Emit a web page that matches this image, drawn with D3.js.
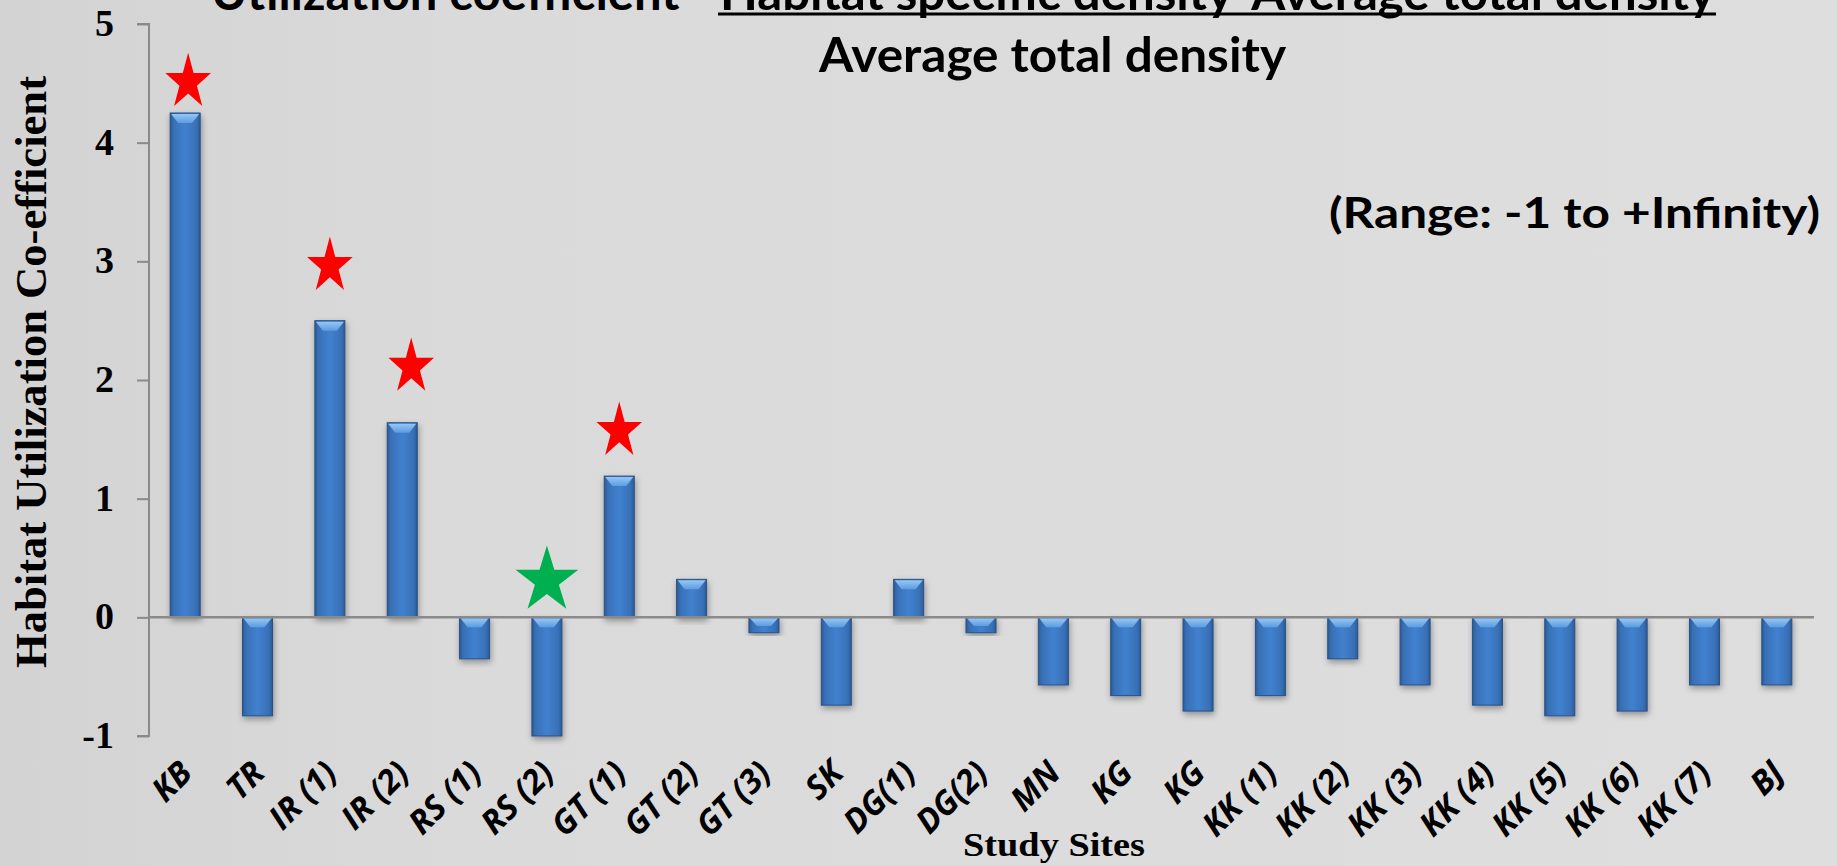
<!DOCTYPE html>
<html>
<head>
<meta charset="utf-8">
<script src="https://cdn.jsdelivr.net/npm/d3@7"></script>
<style>
  html, body { margin: 0; padding: 0; background: #dcdcdc; overflow: hidden; }
  svg { display: block; }
</style>
</head>
<body>
<svg id="chart" width="1837" height="866"></svg>
<script>
// Study sites along the category axis (KG appears twice)
const sites = ["KB", "TR", "IR (1)", "IR (2)", "RS (1)", "RS (2)", "GT (1)", "GT (2)", "GT (3)",
  "SK", "DG(1)", "DG(2)", "MN", "KG", "KG", "KK (1)", "KK (2)", "KK (3)", "KK (4)",
  "KK (5)", "KK (6)", "KK (7)", "BJ"];

// Habitat utilization co-efficient for each site
const coefficients = [4.25, -0.83, 2.50, 1.64, -0.35, -1.00, 1.19, 0.32, -0.13,
  -0.74, 0.32, -0.13, -0.57, -0.66, -0.79, -0.66, -0.35, -0.57, -0.74,
  -0.83, -0.79, -0.57, -0.57];

// Value axis ticks
const yTicks = [-1, 0, 1, 2, 3, 4, 5];

// Star markers: site index, level on the value axis, kind
const starSites = [0, 2, 3, 6, 5];
const starLevels = [4.51, 2.96, 2.11, 1.57, 0.31];
const starKinds = ["high", "high", "high", "high", "low"];

// Text
const titleLeft = "Utilization coefficient= ";
const titleNumerator = "Habitat specific density-Average total density";
const titleDenominator = "Average total density";
const rangeNote = "(Range: -1 to +Infinity)";
const yTitle = "Habitat Utilization Co-efficient";
const xTitle = "Study Sites";

const svg = d3.select("#chart");
const W = 1837, H = 866;

const defs = svg.append("defs");

// background
const bg = defs.append("linearGradient").attr("id", "bg").attr("x1", 0).attr("x2", 1).attr("y1", 0).attr("y2", 0);
bg.append("stop").attr("offset", "0%").attr("stop-color", "#d3d3d3");
bg.append("stop").attr("offset", "25%").attr("stop-color", "#dadada");
bg.append("stop").attr("offset", "100%").attr("stop-color", "#dedede");
svg.append("rect").attr("width", W).attr("height", H).attr("fill", "url(#bg)");

// bar body gradient
const bar = defs.append("linearGradient").attr("id", "barFill").attr("x1", 0).attr("x2", 1).attr("y1", 0).attr("y2", 0);
[["0%", "#2c5a95"], ["12%", "#3870b6"], ["50%", "#4181cf"], ["88%", "#3870b6"], ["100%", "#2c5a95"]]
  .forEach(([o, c]) => bar.append("stop").attr("offset", o).attr("stop-color", c));

const bevel = defs.append("linearGradient").attr("id", "bevelFill").attr("x1", 0).attr("x2", 0).attr("y1", 0).attr("y2", 1);
bevel.append("stop").attr("offset", "0%").attr("stop-color", "#93c7f8");
bevel.append("stop").attr("offset", "100%").attr("stop-color", "#5d9be0");

const shadow = defs.append("filter").attr("id", "shadow").attr("x", "-30%").attr("y", "-10%").attr("width", "160%").attr("height", "130%");
shadow.append("feDropShadow").attr("dx", 1).attr("dy", 3).attr("stdDeviation", 3)
  .attr("flood-color", "#000").attr("flood-opacity", 0.35);

// scales
const x = d3.scaleBand()
  .domain(d3.range(sites.length))
  .range([149, 1813])
  .paddingInner(0.585)
  .paddingOuter(0.2925);

const y = d3.scaleLinear().domain([-1, 5]).range([736, 24]);

const axisGrey = "#8a8a8a";
const serif = "'Liberation Serif', 'Times New Roman', serif";
const sans = "Lato, 'Open Sans', sans-serif";

// value axis
const yAxis = svg.append("g")
  .attr("transform", `translate(${x.range()[0]},0)`)
  .call(d3.axisLeft(y).tickValues(yTicks).tickSize(12).tickPadding(23).tickFormat(d => String(d)));
yAxis.select(".domain").attr("stroke", axisGrey).attr("stroke-width", 2)
  .attr("d", `M-12,${y(5)}H0V${y(-1)}H-12`);
yAxis.selectAll(".tick line").attr("stroke", axisGrey).attr("stroke-width", 2);
yAxis.selectAll(".tick text")
  .attr("fill", "#000")
  .attr("dy", "0.3em")
  .style("font-family", serif)
  .style("font-weight", "bold")
  .style("font-size", "38px");

// bars
const bars = svg.append("g").selectAll("g.bar")
  .data(coefficients.map((v, i) => ({ v, i })))
  .join("g").attr("class", "bar");

bars.append("rect")
  .attr("x", d => x(d.i))
  .attr("width", x.bandwidth())
  .attr("y", d => y(Math.max(0, d.v)))
  .attr("height", d => Math.abs(y(d.v) - y(0)))
  .attr("fill", "url(#barFill)")
  .attr("stroke", "#2a4f83")
  .attr("stroke-width", 1)
  .attr("filter", "url(#shadow)");

// bevelled top face of each bar
bars.append("path")
  .attr("d", d => {
    const x0 = x(d.i), w = x.bandwidth(), t = y(Math.max(0, d.v)) + 1;
    const h = Math.min(9, Math.abs(y(d.v) - y(0)) / 2);
    return `M${x0 + 1},${t}H${x0 + w - 1}L${x0 + w - 8},${t + h}H${x0 + 8}Z`;
  })
  .attr("fill", "url(#bevelFill)");

// zero line
svg.append("line")
  .attr("x1", x.range()[0]).attr("x2", x.range()[1] + 1)
  .attr("y1", y(0)).attr("y2", y(0))
  .attr("stroke", axisGrey).attr("stroke-width", 2.5);

// category labels
svg.append("g").selectAll("text")
  .data(sites)
  .join("text")
  .attr("transform", (d, i) => `translate(${x(i) + x.bandwidth() / 2 + 9},775) rotate(-45)`)
  .attr("text-anchor", "end")
  .style("font-family", "'Open Sans', Lato, sans-serif")
  .style("font-weight", "bold")
  .style("font-style", "italic")
  .style("font-size", "33px")
  .attr("fill", "#000")
  .text(d => d);

// star markers
function starPoints(cx, cy, rx, ry) {
  const pts = [];
  for (let k = 0; k < 10; k++) {
    const a = -Math.PI / 2 + k * Math.PI / 5;
    const r = k % 2 === 0 ? 1 : 0.382;
    pts.push([cx + rx * r * Math.cos(a), cy + ry * r * Math.sin(a)]);
  }
  return pts.map(p => p.join(",")).join(" ");
}
const starStyle = {
  high: { fill: "#ff0000", rx: 24, ry: 29.5 },
  low: { fill: "#00b050", rx: 33, ry: 35 }
};
const starNudge = { 0: 3, 3: 9 };
svg.append("g").selectAll("polygon")
  .data(starSites.map((s, k) => ({ s, level: starLevels[k], kind: starKinds[k] })))
  .join("polygon")
  .attr("points", d => {
    const st = starStyle[d.kind];
    const cx = x(d.s) + x.bandwidth() / 2 + (starNudge[d.s] || 0);
    return starPoints(cx, y(d.level), st.rx, st.ry);
  })
  .attr("fill", d => starStyle[d.kind].fill);

// titles
function fitText(sel, width) {
  sel.attr("textLength", width).attr("lengthAdjust", "spacingAndGlyphs");
}
svg.append("text").attr("x", 211).attr("y", 10)
  .style("font-family", sans).style("font-weight", "bold").style("font-size", "47px")
  .text(titleLeft).call(fitText, 497);
svg.append("text").attr("x", 720).attr("y", 10)
  .style("font-family", sans).style("font-weight", "bold").style("font-size", "47px")
  .text(titleNumerator).call(fitText, 995);
svg.append("line").attr("x1", 718).attr("x2", 1716).attr("y1", 14).attr("y2", 14)
  .attr("stroke", "#000").attr("stroke-width", 3);
svg.append("text").attr("x", 819).attr("y", 72)
  .style("font-family", sans).style("font-weight", "bold").style("font-size", "47px")
  .text(titleDenominator).call(fitText, 467);
svg.append("text").attr("x", 1329).attr("y", 228)
  .style("font-family", sans).style("font-weight", "bold").style("font-size", "42px")
  .text(rangeNote).call(fitText, 491);

// axis titles
svg.append("text")
  .attr("transform", "translate(46,372) rotate(-90)")
  .attr("text-anchor", "middle")
  .style("font-family", serif).style("font-weight", "bold").style("font-size", "44px")
  .text(yTitle).call(fitText, 592);
svg.append("text")
  .attr("x", 963).attr("y", 856)
  .style("font-family", serif).style("font-weight", "bold").style("font-size", "34px")
  .text(xTitle).call(fitText, 182);
</script>
</body>
</html>
